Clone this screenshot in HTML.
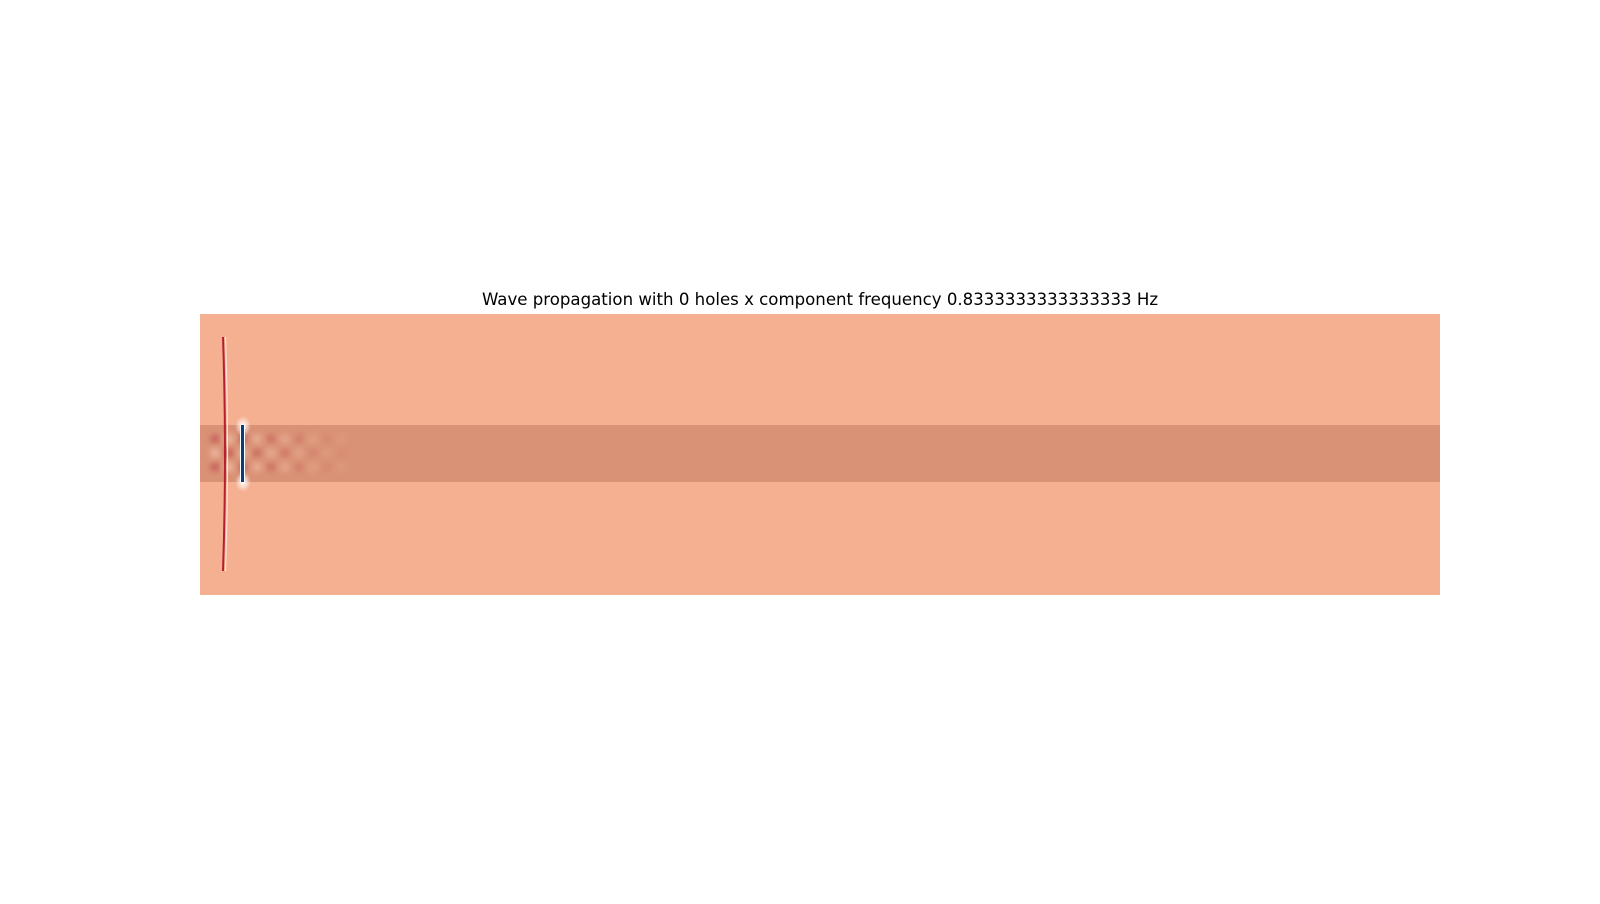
<!DOCTYPE html>
<html><head><meta charset="utf-8"><style>
body{margin:0;background:#fff;width:1600px;height:900px;overflow:hidden;font-family:"DejaVu Sans","Liberation Sans",sans-serif}
</style></head><body>
<svg width="1600" height="900">
<defs>
<radialGradient id="halo"><stop offset="0" stop-color="#fff" stop-opacity="1"/><stop offset="1" stop-color="#fff" stop-opacity="0"/></radialGradient>
<filter id="blur"><feGaussianBlur stdDeviation="3"/></filter>
</defs>
<text x="820" y="305" text-anchor="middle" font-size="16.6" fill="#000">Wave propagation with 0 holes x component frequency 0.8333333333333333 Hz</text>
<rect x="200" y="314" width="1240" height="281" fill="#f5af91"/>
<rect x="200" y="425" width="1240" height="57" fill="#da9276"/>
<g id="cells" filter="url(#blur)"></g>
<ellipse cx="243" cy="426" rx="8" ry="10" fill="url(#halo)"/>
<ellipse cx="243" cy="482" rx="8" ry="10" fill="url(#halo)"/>
<path d="M223 337 Q227 454 223 571" stroke="#b52030" stroke-width="2" fill="none"/>
<path d="M225.5 337 Q229.5 454 225.5 571" stroke="#fbe3d6" stroke-width="1.2" fill="none"/>
<rect x="240" y="425" width="5" height="57" fill="#fff"/>
<rect x="241" y="425" width="3" height="57" fill="#0d3b75"/>
</svg>
<script>
const cellCols = [0,1,2,3,4,5,6,7,8,9];
const cellRows = [0,1,2];
const cellAmp = [0.9,0.9,0.8,0.7,0.6,0.5,0.4,0.3,0.2,0.15];
const g = document.getElementById('cells');
function xScale(c){return 215 + c*14;}
function yScale(r){return 439 + r*14;}
cellCols.forEach((c,i)=>{cellRows.forEach(r=>{
  const dark = (c + r) % 2 === 0;
  const el = document.createElementNS('http://www.w3.org/2000/svg','circle');
  el.setAttribute('cx', xScale(c)); el.setAttribute('cy', yScale(r)); el.setAttribute('r', 5);
  el.setAttribute('fill', dark ? '#b8404a' : '#f7d0bd');
  el.setAttribute('opacity', cellAmp[i]*0.6);
  
  
  g.appendChild(el);
});});
</script>
</body></html>
